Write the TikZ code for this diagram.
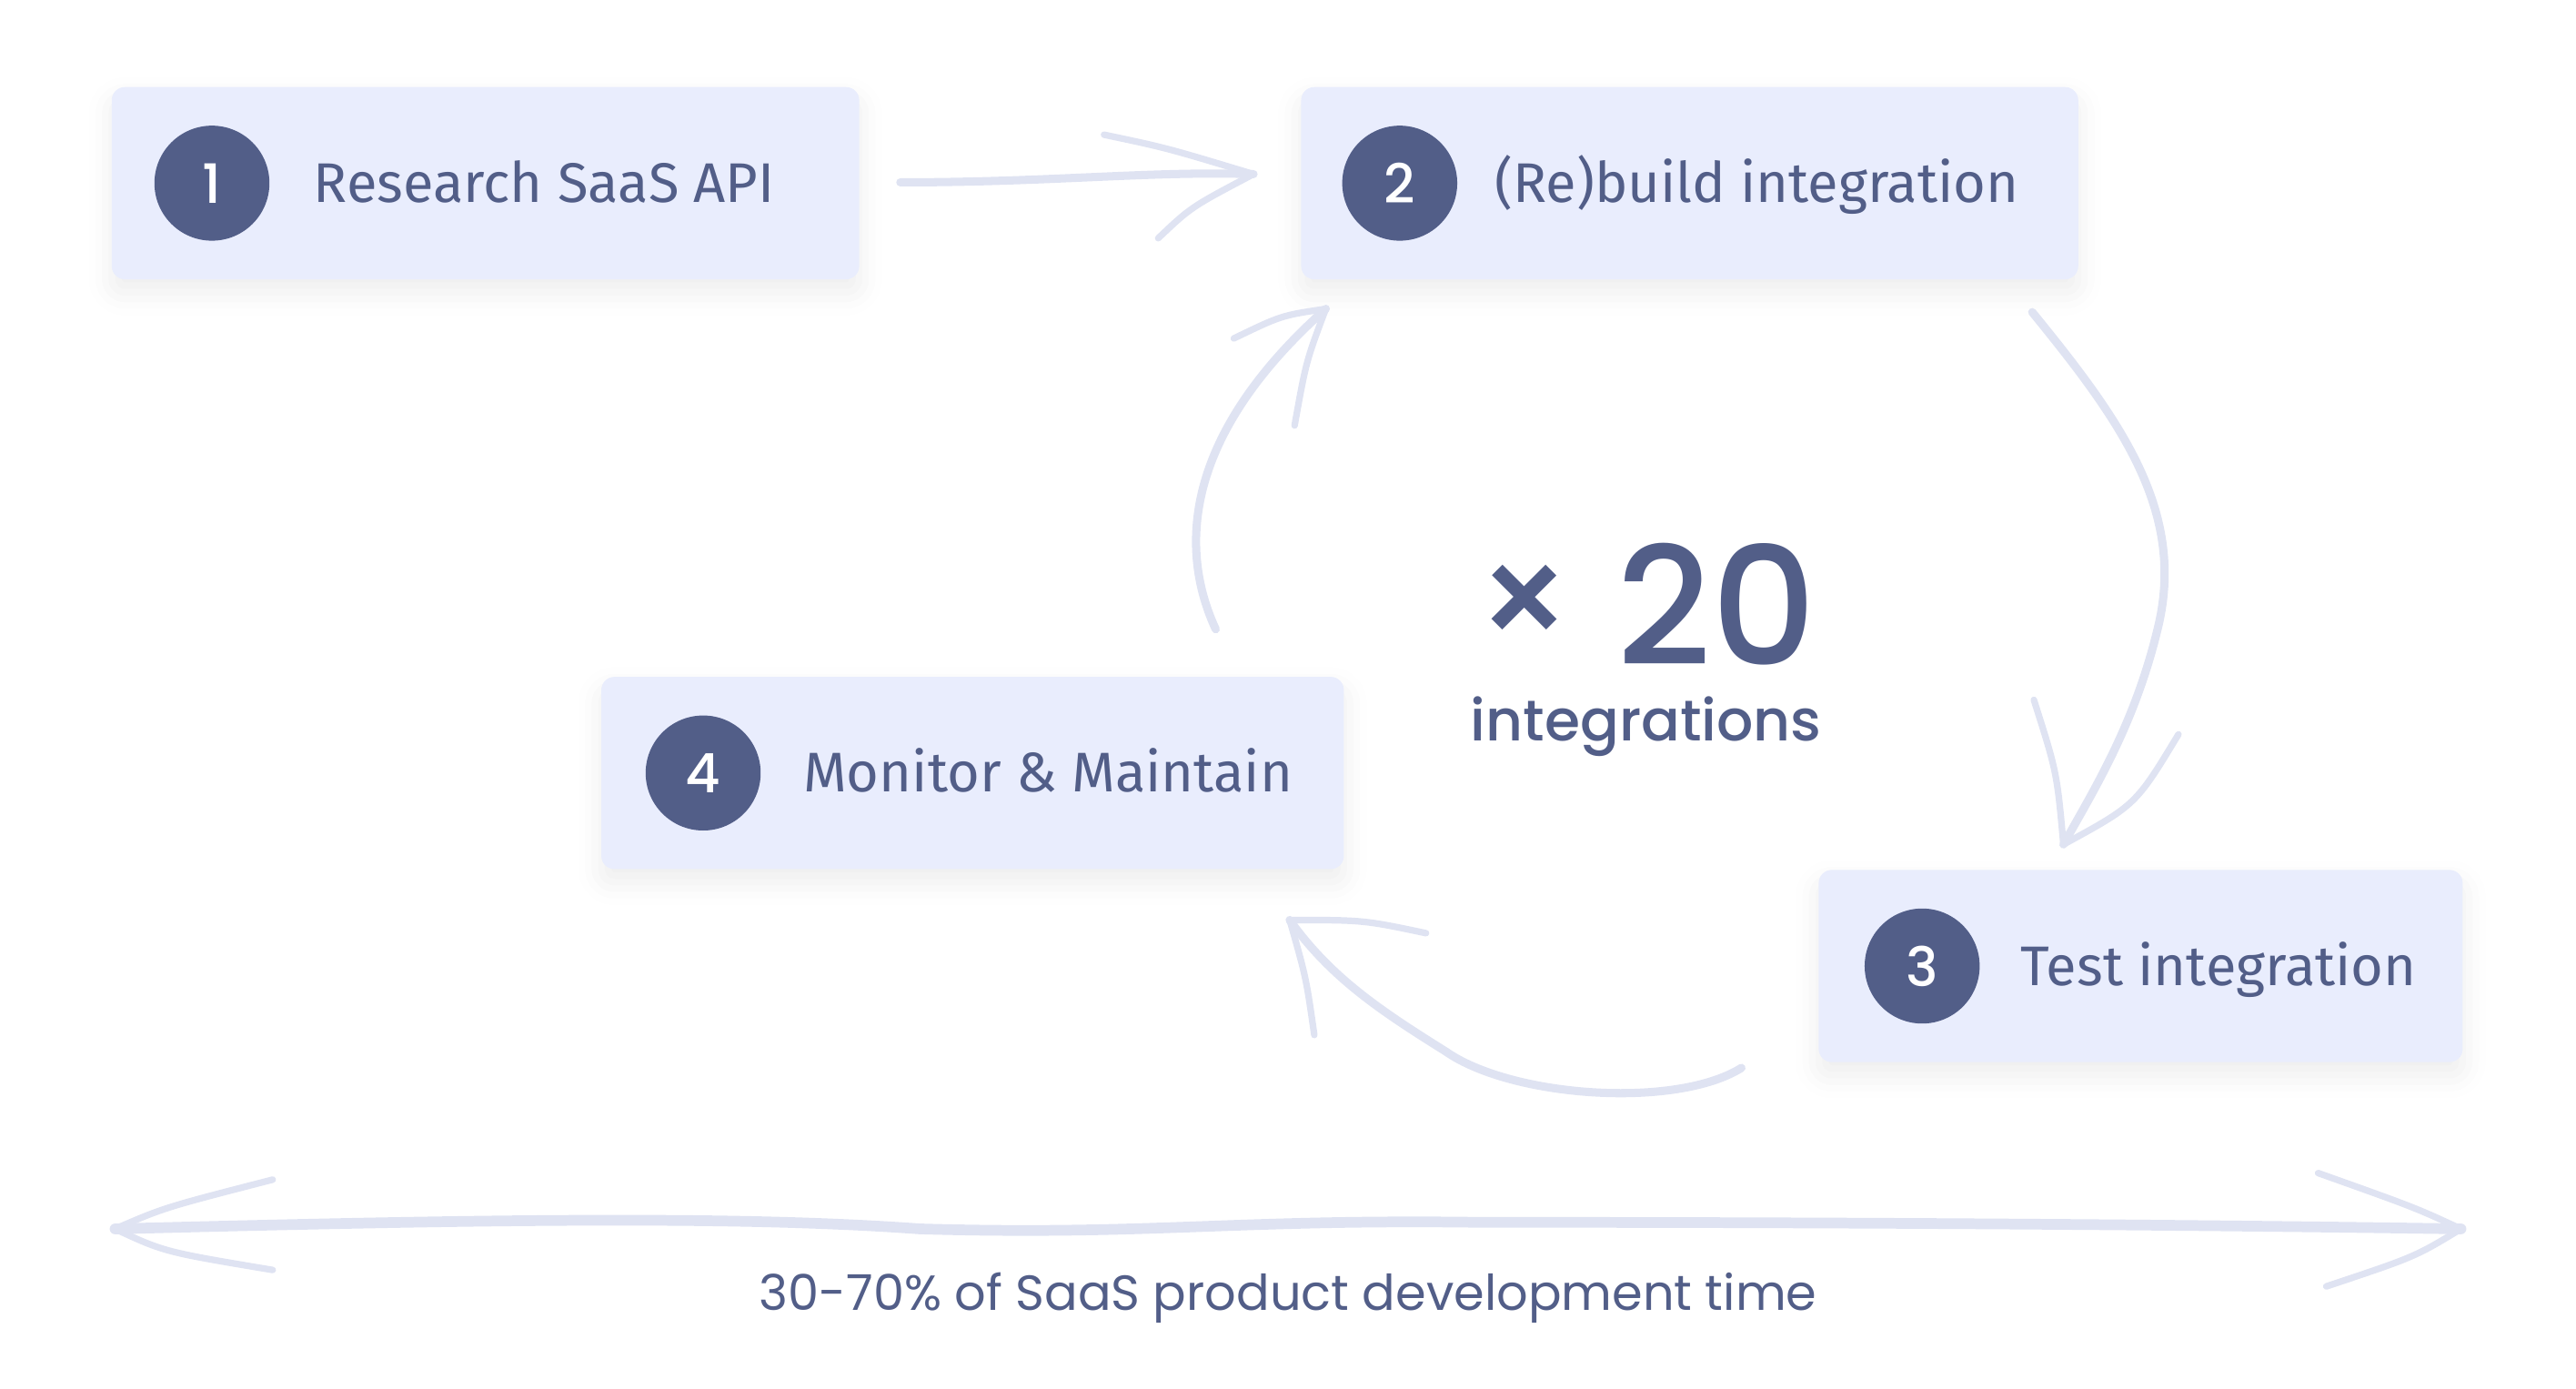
\documentclass[tikz,border=0pt]{standalone}
\usepackage{fontspec}
\setmainfont{Fira Sans}
\newfontfamily\numfont{Poppins}
\newfontfamily\midfont{Poppins Medium}
\usetikzlibrary{positioning,shadows.blur}

\definecolor{ink}{HTML}{525E88}
\definecolor{boxfill}{HTML}{E9EDFD}
\definecolor{pen}{HTML}{DFE3F2}

\tikzset{
  stepbox/.style={fill=boxfill, rounded corners=8pt, minimum height=117pt, inner sep=0pt,
    blur shadow={shadow xshift=0pt, shadow yshift=-8pt, shadow blur radius=14pt, shadow opacity=7}},
  badge/.style={circle, fill=ink, minimum size=70pt, inner sep=0pt, text=white,
    font=\midfont\fontsize{33}{33}\selectfont},
  steplabel/.style={text=ink, inner sep=0pt, text height=23.4pt, text depth=0pt,
    font=\fontsize{34}{40}\selectfont},
  sketch/.style={draw=pen, line width=5pt, line cap=round, line join=round},
  barb/.style={draw=pen, line width=4pt, line cap=round},
}

\begin{document}
\begin{tikzpicture}[x=1pt,y=-1pt]
\useasboundingbox (0,0) rectangle (1568,845);

% step boxes
\node[stepbox, minimum width=455pt] (box1) at (295.5,111.5) {};
\node[stepbox, minimum width=473pt] (box2) at (1028.5,111.5) {};
\node[stepbox, minimum width=392pt] (box3) at (1303,588) {};
\node[stepbox, minimum width=452pt] (box4) at (592,470.5) {};

\node[badge, right=26pt of box1.west] (num1) {1};
\node[badge, right=25pt of box2.west] (num2) {2};
\node[badge, right=28pt of box3.west] (num3) {3};
\node[badge, right=27pt of box4.west] (num4) {4};

\node[steplabel, right=123pt of box1.west] (lab1) {Research SaaS API};
\node[steplabel, right=118pt of box2.west] (lab2) {(Re)build integration};
\node[steplabel, right=123pt of box3.west] (lab3) {Test integration};
\node[steplabel, right=123pt of box4.west] (lab4) {Monitor \& Maintain};

% centre count
\node[text=ink, inner sep=0pt, font=\midfont\fontsize{88}{88}\selectfont] (times) at (928,370) {×};
\node[text=ink, inner sep=0pt, anchor=base, font=\midfont\fontsize{100}{100}\selectfont] (count) at (1045,405) {20};
\node[text=ink, inner sep=0pt, anchor=base, font=\midfont\fontsize{35}{40}\selectfont] (unit) at (1002,451) {integrations};

% 1 -> 2
\coordinate (a12s) at (548,111);
\coordinate (a12t) at (763,106);
\coordinate (a12u) at (672,82);
\coordinate (a12d) at (705,145);
\draw[sketch] (a12s) .. controls (640,111) and (700,104) .. (a12t);
\draw[barb] (a12u) .. controls (710,90) .. (a12t);
\draw[barb] (a12d) .. controls (725,126) .. (a12t);

% 2 -> 3
\coordinate (a23s) at (1237,190);
\coordinate (a23t) at (1256,514);
\coordinate (a23l) at (1238,426);
\coordinate (a23r) at (1326,447);
\draw[sketch] (a23s) .. controls (1290,255) and (1330,310) .. (1314,380)
  .. controls (1300,440) and (1275,480) .. (a23t);
\draw[barb] (a23l) .. controls (1252,470) .. (a23t);
\draw[barb] (a23r) .. controls (1300,490) .. (a23t);

% 3 -> 4
\coordinate (a34s) at (1060,650);
\coordinate (a34t) at (785,560);
\coordinate (a34d) at (800,630);
\coordinate (a34r) at (868,568);
\draw[sketch] (a34s) .. controls (1020,675) and (920,668) .. (880,640)
  .. controls (840,615) and (810,595) .. (a34t);
\draw[barb] (a34d) .. controls (795,595) .. (a34t);
\draw[barb] (a34r) .. controls (830,560) .. (a34t);

% 4 -> 2
\coordinate (a42s) at (740,383);
\coordinate (a42t) at (807,188);
\coordinate (a42l) at (751,206);
\coordinate (a42d) at (788,259);
\draw[sketch] (a42s) .. controls (720,340) and (715,270) .. (a42t);
\draw[barb] (a42l) .. controls (780,192) .. (a42t);
\draw[barb] (a42d) .. controls (795,220) .. (a42t);

% span arrow
\coordinate (spanl) at (70,748);
\coordinate (spanr) at (1498,748);
\coordinate (spanlu) at (166,718);
\coordinate (spanld) at (166,773);
\coordinate (spanru) at (1411,714);
\coordinate (spanrd) at (1416,783);
\draw[sketch, line width=6.5pt] (spanl) .. controls (300,742) and (450,740) .. (560,748)
  .. controls (700,752) and (750,742) .. (900,744)
  .. controls (1100,744) and (1300,745) .. (spanr);
\draw[barb] (spanlu) .. controls (100,735) .. (spanl);
\draw[barb] (spanld) .. controls (100,762) .. (spanl);
\draw[barb] (spanru) .. controls (1470,735) .. (spanr);
\draw[barb] (spanrd) .. controls (1470,765) .. (spanr);

\node[text=ink, inner sep=0pt, font=\numfont\fontsize{30}{34}\selectfont] (share) at (784,790)
  {30-70\% of SaaS product development time};
\end{tikzpicture}
\end{document}
